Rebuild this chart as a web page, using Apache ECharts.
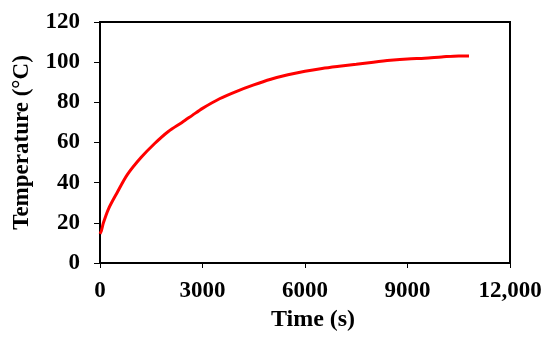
<!DOCTYPE html>
<html>
<head>
<meta charset="utf-8">
<script src="https://cdn.jsdelivr.net/npm/echarts@6/dist/echarts.min.js"></script>
<style>html,body{margin:0;padding:0;background:#fff}#c{width:550px;height:337px}</style>
</head>
<body>
<div id="c"></div>
<script>
var timeS = [0, 40, 100, 250, 500, 800, 1200, 1600, 2000, 2400, 2700, 3000, 3500, 4000, 4500, 5000, 5500, 6000, 6500, 7000, 7500, 8000, 8500, 9000, 9500, 10000, 10500, 10800];
var tempC = [14.5, 16, 20, 27, 35, 44, 52.5, 59.5, 65.5, 70, 73.5, 77, 81.8, 85.5, 88.7, 91.5, 93.7, 95.5, 96.9, 98, 99, 100, 100.9, 101.6, 102, 102.6, 103.1, 103.1];
var xTickLabels = {0: '0', 3000: '3000', 6000: '6000', 9000: '9000', 12000: '12,000'};
var yTickLabels = {0: '0', 20: '20', 40: '40', 60: '60', 80: '80', 100: '100', 120: '120'};

var pts = timeS.map(function (t, i) { return [t, tempC[i]]; });
var font = 'Liberation Serif, Times New Roman, serif';
var chart = echarts.init(document.getElementById('c'), null, {renderer: 'canvas'});
chart.setOption({
  animation: false,
  backgroundColor: '#fff',
  grid: {left: 100, right: 40, top: 22, bottom: 74, show: true, borderColor: '#000', borderWidth: 2, containLabel: false},
  xAxis: {
    type: 'value', min: 0, max: 12000, interval: 3000,
    name: 'Time (s)', nameLocation: 'middle', nameGap: 40,
    nameTextStyle: {fontFamily: font, fontWeight: 'bold', fontSize: 24, color: '#000', padding: [0, 0, 0, 16]},
    axisLine: {show: true, lineStyle: {color: '#000', width: 2}},
    axisTick: {show: true, inside: false, length: 5, lineStyle: {color: '#000', width: 1}},
    axisLabel: {margin: 17, fontFamily: font, fontWeight: 'bold', fontSize: 23, color: '#000',
      formatter: function (v) { return xTickLabels[v] !== undefined ? xTickLabels[v] : ''; }},
    splitLine: {show: false}
  },
  yAxis: {
    type: 'value', min: 0, max: 120, interval: 20,
    name: 'Temperature (°C)', nameLocation: 'middle', nameGap: 66,
    nameTextStyle: {fontFamily: font, fontWeight: 'bold', fontSize: 23, color: '#000'},
    axisLine: {show: true, lineStyle: {color: '#000', width: 2}},
    axisTick: {show: true, inside: false, length: 6, lineStyle: {color: '#000', width: 1}},
    axisLabel: {margin: 20, fontFamily: font, fontWeight: 'bold', fontSize: 23, color: '#000',
      formatter: function (v) { return yTickLabels[v] !== undefined ? yTickLabels[v] : ''; }},
    splitLine: {show: false}
  },
  series: [{
    type: 'line', data: pts, smooth: 0.3, showSymbol: false,
    lineStyle: {color: '#ff0000', width: 3}
  }]
});
</script>
</body>
</html>
